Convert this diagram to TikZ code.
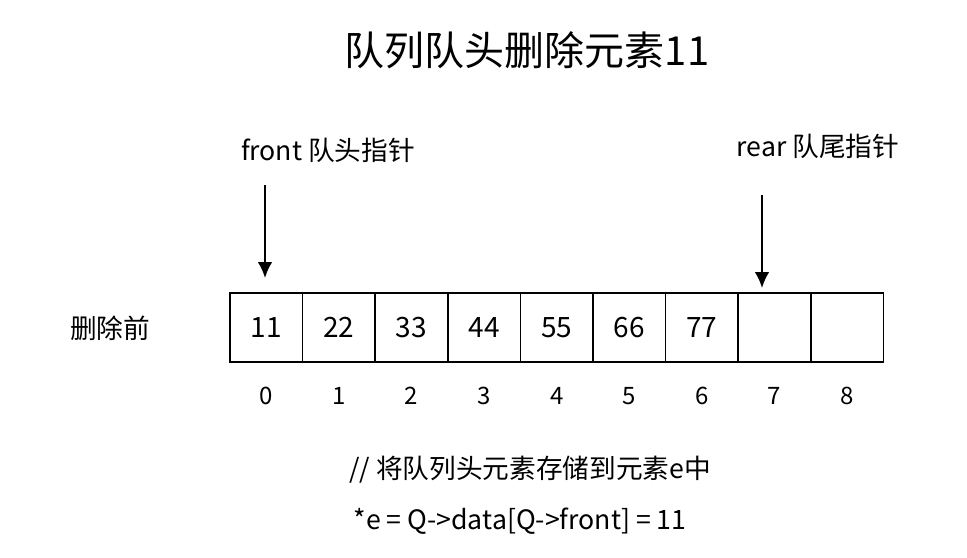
\documentclass[tikz,border=0pt]{standalone}
\usepackage{fontspec}
\setmainfont{Noto Sans CJK SC}
\usetikzlibrary{positioning}
\tikzset{every picture/.style={line width=0.75pt}}
\tikzset{
  cellbox/.style={draw,line width=1.3pt,minimum width=72.6*0.75pt,minimum height=69*0.75pt,inner sep=0pt,font=\fontsize{21}{24}\selectfont},
  idxtxt/.style={font=\fontsize{18}{20}\selectfont},
  lbltxt/.style={font=\fontsize{20}{24}\selectfont},
  ptrarrow/.style={-{Latex[length=12pt,width=11pt]},line width=1.5pt}
}
\usetikzlibrary{arrows.meta}
\begin{document}
\begin{tikzpicture}[x=0.75pt,y=0.75pt,yscale=-1,xscale=1]
\useasboundingbox (0,0) rectangle (967,557);

% Title
\node (title) at (527,50) {\fontsize{30}{36}\selectfont 队列队头删除元素11};

% Cells
\foreach \i/\v in {0/11,1/22,2/33,3/44,4/55,5/66,6/77,7/,8/} {
  \node[cellbox] (c\i) at (266.3+72.6*\i,327.5) {\v};
  \node[idxtxt] (n\i) at (266.3+72.6*\i,396) {\i};
}

\node[lbltxt] (before) at (110,328) {删除前};

% Pointers
\node[lbltxt] (front) at (328,150) {front 队头指针};
\coordinate (fs) at (265,185);
\coordinate (fe) at (265,278);
\draw[ptrarrow] (fs) -- (fe);
\node[lbltxt] (rear) at (818,146) {rear 队尾指针};
\coordinate (rs) at (762,195);
\coordinate (re) at (762,288);
\draw[ptrarrow] (rs) -- (re);

% Code text
\node[lbltxt] (cmt) at (530,470) {// 将队列头元素存储到元素e中};
\node[lbltxt] (code) at (520,521) {*e = Q->data[Q->front] = 11};

\end{tikzpicture}
\end{document}
